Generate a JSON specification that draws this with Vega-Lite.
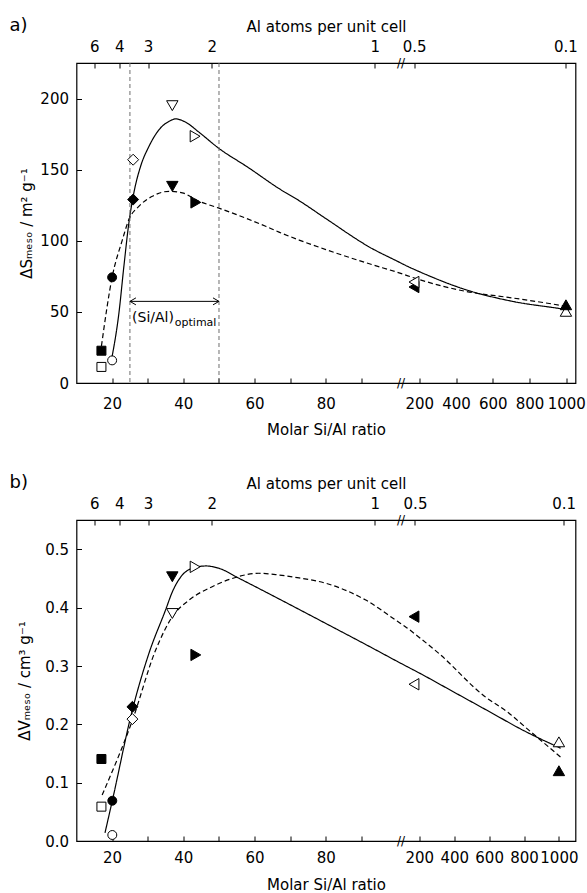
{
  "$schema": "https://vega.github.io/schema/vega-lite/v6.json",
  "padding": {"left": 8.5, "top": 15, "right": 0, "bottom": 0},
  "config": {
    "font": "DejaVu Sans",
    "view": {"stroke": "black", "strokeWidth": 1.2},
    "axis": {"domain": false, "grid": false, "ticks": true, "tickSize": -5, "tickColor": "black", "tickWidth": 1,
             "labelFont": "DejaVu Sans", "labelFontSize": 15, "labelColor": "black", "labelPadding": 13,
             "labelOverlap": false, "labelFlush": false,
             "titleFont": "DejaVu Sans", "titleFontSize": 15, "titleFontWeight": "normal", "titleColor": "black", "titlePadding": 6},
    "title": {"font": "DejaVu Sans", "fontSize": 18, "fontWeight": "normal", "color": "black", "anchor": "start", "frame": "group"}
  },
  "datasets": {
    "pa": [
      {"x": 17, "y": 22.7, "series": "II", "sample": "s1"},
      {"x": 17, "y": 11.3, "series": "I", "sample": "s1"},
      {"x": 20, "y": 74.3, "series": "II", "sample": "s2"},
      {"x": 20, "y": 15.9, "series": "I", "sample": "s2"},
      {"x": 25.9, "y": 129, "series": "II", "sample": "s3"},
      {"x": 25.9, "y": 157, "series": "I", "sample": "s3"},
      {"x": 36.9, "y": 195, "series": "I", "sample": "s4"},
      {"x": 36.9, "y": 138.3, "series": "II", "sample": "s4"},
      {"x": 43.3, "y": 173.5, "series": "I", "sample": "s5"},
      {"x": 43.5, "y": 127, "series": "II", "sample": "s5"},
      {"x": 176, "y": 67.5, "series": "II", "sample": "s6"},
      {"x": 176, "y": 71, "series": "I", "sample": "s6"},
      {"x": 998, "y": 50.4, "series": "I", "sample": "s7"},
      {"x": 998, "y": 55, "series": "II", "sample": "s7"}
    ],
    "pb": [
      {"x": 17, "y": 0.1406, "series": "II", "sample": "s1"},
      {"x": 17, "y": 0.0589, "series": "I", "sample": "s1"},
      {"x": 20.05, "y": 0.069, "series": "II", "sample": "s2"},
      {"x": 20.05, "y": 0.0103, "series": "I", "sample": "s2"},
      {"x": 25.7, "y": 0.23, "series": "II", "sample": "s3"},
      {"x": 25.7, "y": 0.209, "series": "I", "sample": "s3"},
      {"x": 36.9, "y": 0.453, "series": "II", "sample": "s4"},
      {"x": 36.9, "y": 0.39, "series": "I", "sample": "s4"},
      {"x": 43.3, "y": 0.47, "series": "I", "sample": "s5"},
      {"x": 43.5, "y": 0.319, "series": "II", "sample": "s5"},
      {"x": 176, "y": 0.3846, "series": "II", "sample": "s6"},
      {"x": 176, "y": 0.2687, "series": "I", "sample": "s6"},
      {"x": 1000, "y": 0.17, "series": "I", "sample": "s7"},
      {"x": 1000, "y": 0.1205, "series": "II", "sample": "s7"}
    ],
    "ca": [
      {"x": 20, "y": 18.7, "series": "I"}, {"x": 21.9, "y": 49, "series": "I"}, {"x": 23.3, "y": 82, "series": "I"},
      {"x": 24.7, "y": 112.5, "series": "I"}, {"x": 26.1, "y": 133.7, "series": "I"}, {"x": 28.0, "y": 152.4, "series": "I"},
      {"x": 30.35, "y": 166.4, "series": "I"}, {"x": 33.2, "y": 178.2, "series": "I"}, {"x": 36, "y": 184, "series": "I"},
      {"x": 37.85, "y": 185.7, "series": "I"}, {"x": 40.7, "y": 183.3, "series": "I"}, {"x": 44.4, "y": 176.3, "series": "I"},
      {"x": 49.8, "y": 165.3, "series": "I"}, {"x": 58.4, "y": 151.2, "series": "I"}, {"x": 66.85, "y": 136.7, "series": "I"},
      {"x": 72.5, "y": 128.2, "series": "I"}, {"x": 80, "y": 115.6, "series": "I"}, {"x": 93, "y": 94.5, "series": "I"},
      {"x": 100, "y": 85.7, "series": "I"}, {"x": 150, "y": 81.8, "series": "I"}, {"x": 200, "y": 78.3, "series": "I"},
      {"x": 453, "y": 65.6, "series": "I"}, {"x": 707, "y": 57.4, "series": "I"}, {"x": 998, "y": 51.6, "series": "I"},
      {"x": 1015, "y": 51.2, "series": "I"},
      {"x": 17, "y": 26, "series": "II"}, {"x": 20, "y": 74.3, "series": "II"}, {"x": 22.9, "y": 100.8, "series": "II"},
      {"x": 24.7, "y": 114.9, "series": "II"}, {"x": 27.5, "y": 124.2, "series": "II"}, {"x": 31.3, "y": 131.3, "series": "II"},
      {"x": 36, "y": 134.8, "series": "II"}, {"x": 39.7, "y": 133.7, "series": "II"}, {"x": 44.4, "y": 127.8, "series": "II"},
      {"x": 49.8, "y": 123.1, "series": "II"}, {"x": 63.1, "y": 110.2, "series": "II"}, {"x": 66.85, "y": 106.1, "series": "II"},
      {"x": 72.5, "y": 100.5, "series": "II"}, {"x": 80, "y": 93.8, "series": "II"}, {"x": 93, "y": 83.2, "series": "II"},
      {"x": 100, "y": 77.9, "series": "II"}, {"x": 200, "y": 72.7, "series": "II"}, {"x": 453, "y": 64.4, "series": "II"},
      {"x": 707, "y": 59.8, "series": "II"}, {"x": 998, "y": 53.9, "series": "II"}, {"x": 1015, "y": 53.5, "series": "II"}
    ],
    "cb": [
      {"x": 18, "y": 0.014, "series": "I"}, {"x": 20.05, "y": 0.069, "series": "I"}, {"x": 25.7, "y": 0.225, "series": "I"},
      {"x": 30.35, "y": 0.322, "series": "I"}, {"x": 35.0, "y": 0.396, "series": "I"}, {"x": 36.9, "y": 0.427, "series": "I"},
      {"x": 39.3, "y": 0.453, "series": "I"}, {"x": 42.5, "y": 0.4675, "series": "I"}, {"x": 46.3, "y": 0.4715, "series": "I"},
      {"x": 50, "y": 0.4675, "series": "I"}, {"x": 55.6, "y": 0.4504, "series": "I"}, {"x": 66.85, "y": 0.415, "series": "I"},
      {"x": 80.9, "y": 0.37, "series": "I"}, {"x": 93, "y": 0.331, "series": "I"}, {"x": 100, "y": 0.308, "series": "I"},
      {"x": 150, "y": 0.298, "series": "I"}, {"x": 200, "y": 0.288, "series": "I"}, {"x": 400, "y": 0.255, "series": "I"},
      {"x": 600, "y": 0.222, "series": "I"}, {"x": 800, "y": 0.189, "series": "I"}, {"x": 1010, "y": 0.159, "series": "I"},
      {"x": 17.2, "y": 0.079, "series": "II"}, {"x": 25.7, "y": 0.207, "series": "II"}, {"x": 32.2, "y": 0.327, "series": "II"},
      {"x": 36.9, "y": 0.3845, "series": "II"}, {"x": 41.6, "y": 0.413, "series": "II"}, {"x": 48.1, "y": 0.436, "series": "II"},
      {"x": 53.7, "y": 0.45, "series": "II"}, {"x": 61.2, "y": 0.459, "series": "II"}, {"x": 66.85, "y": 0.456, "series": "II"},
      {"x": 72.5, "y": 0.451, "series": "II"}, {"x": 80, "y": 0.4418, "series": "II"}, {"x": 91.2, "y": 0.413, "series": "II"},
      {"x": 100, "y": 0.377, "series": "II"}, {"x": 138.7, "y": 0.367, "series": "II"}, {"x": 200, "y": 0.349, "series": "II"},
      {"x": 312.6, "y": 0.3214, "series": "II"}, {"x": 571.4, "y": 0.2486, "series": "II"}, {"x": 712.6, "y": 0.2194, "series": "II"},
      {"x": 809.7, "y": 0.1946, "series": "II"}, {"x": 1019.4, "y": 0.1414, "series": "II"}
    ],
    "vlines": [{"x": 25}, {"x": 50}],
    "arrow": [{"x": 25, "x2": 50, "y": 57.4}],
    "heads": [{"x": 25, "y": 57.4, "dir": "left"}, {"x": 50, "y": 57.4, "dir": "right"}],
    "lab1": [{"x": 25.6, "y": 45.9, "text": "(Si/Al)"}],
    "lab2": [{"x": 37.6, "y": 42.3, "text": "optimal"}],
    "brka": [{"x": 117.6, "y": 0}, {"x": 117.6, "y": 225}],
    "brkb": [{"x": 117.6, "y": 0}, {"x": 117.6, "y": 0.5503}]
  },
  "spacing": 33,
  "vconcat": [
    {
      "title": {"text": "a)", "dx": -67, "dy": 19},
      "width": 499, "height": 320,
      "resolve": {"axis": {"x": "independent"}},
      "layer": [
        {
          "data": {"name": "ca"},
          "mark": {"type": "line", "color": "black", "strokeWidth": 1.2, "interpolate": "monotone"},
          "encoding": {
            "x": {"field": "x", "type": "quantitative", "axis": null,
                  "scale": {"domain": [10, 100, 200, 1050], "range": [0, 320.6, 342.8, 499], "nice": false, "zero": false}},
            "y": {"field": "y", "type": "quantitative", "scale": {"domain": [0, 225], "nice": false},
                  "axis": {"title": "ΔSₘₑₛₒ / m² g⁻¹", "titlePadding": 5.7, "values": [0, 25, 50, 75, 100, 125, 150, 175, 200],
                           "labelExpr": "datum.value % 50 == 0 ? datum.label : ''"}},
            "strokeDash": {"field": "series", "type": "nominal", "scale": {"domain": ["I", "II"], "range": [[1, 0], [5, 3]]}, "legend": null}
          }
        },
        {
          "data": {"name": "vlines"},
          "mark": {"type": "rule", "strokeDash": [4, 3], "color": "#6e6e6e", "strokeWidth": 1},
          "encoding": {
            "x": {"field": "x", "type": "quantitative", "axis": null,
                  "scale": {"domain": [10, 100, 200, 1050], "range": [0, 320.6, 342.8, 499], "nice": false, "zero": false}}
          }
        },
        {
          "data": {"name": "arrow"},
          "mark": {"type": "rule", "color": "black", "strokeWidth": 1},
          "encoding": {
            "x": {"field": "x", "type": "quantitative", "axis": null,
                  "scale": {"domain": [10, 100, 200, 1050], "range": [0, 320.6, 342.8, 499], "nice": false, "zero": false}},
            "x2": {"field": "x2"},
            "y": {"field": "y", "type": "quantitative", "scale": {"domain": [0, 225], "nice": false}}
          }
        },
        {
          "data": {"name": "heads"},
          "transform": [{"filter": "datum.dir == 'left'"}],
          "mark": {"type": "point", "filled": false, "stroke": "black", "strokeWidth": 1, "opacity": 1, "size": 100, "shape": "M1.2,-0.7L0,0L1.2,0.7"},
          "encoding": {
            "x": {"field": "x", "type": "quantitative", "axis": null,
                  "scale": {"domain": [10, 100, 200, 1050], "range": [0, 320.6, 342.8, 499], "nice": false, "zero": false}},
            "y": {"field": "y", "type": "quantitative", "scale": {"domain": [0, 225], "nice": false}}
          }
        },
        {
          "data": {"name": "heads"},
          "transform": [{"filter": "datum.dir == 'right'"}],
          "mark": {"type": "point", "filled": false, "stroke": "black", "strokeWidth": 1, "opacity": 1, "size": 100, "shape": "M-1.2,-0.7L0,0L-1.2,0.7"},
          "encoding": {
            "x": {"field": "x", "type": "quantitative", "axis": null,
                  "scale": {"domain": [10, 100, 200, 1050], "range": [0, 320.6, 342.8, 499], "nice": false, "zero": false}},
            "y": {"field": "y", "type": "quantitative", "scale": {"domain": [0, 225], "nice": false}}
          }
        },
        {
          "data": {"name": "lab1"},
          "mark": {"type": "text", "align": "left", "baseline": "middle", "fontSize": 14, "font": "DejaVu Sans", "color": "black"},
          "encoding": {
            "x": {"field": "x", "type": "quantitative", "axis": null,
                  "scale": {"domain": [10, 100, 200, 1050], "range": [0, 320.6, 342.8, 499], "nice": false, "zero": false}},
            "y": {"field": "y", "type": "quantitative", "scale": {"domain": [0, 225], "nice": false}},
            "text": {"field": "text"}
          }
        },
        {
          "data": {"name": "lab2"},
          "mark": {"type": "text", "align": "left", "baseline": "middle", "fontSize": 11, "font": "DejaVu Sans", "color": "black"},
          "encoding": {
            "x": {"field": "x", "type": "quantitative", "axis": null,
                  "scale": {"domain": [10, 100, 200, 1050], "range": [0, 320.6, 342.8, 499], "nice": false, "zero": false}},
            "y": {"field": "y", "type": "quantitative", "scale": {"domain": [0, 225], "nice": false}},
            "text": {"field": "text"}
          }
        },
        {
          "data": {"name": "brka"},
          "mark": {"type": "text", "align": "center", "baseline": "middle", "fontSize": 12, "font": "DejaVu Sans", "color": "black"},
          "encoding": {
            "x": {"field": "x", "type": "quantitative",
                  "scale": {"domain": [10, 100, 200, 1050], "range": [0, 320.6, 342.8, 499], "nice": false, "zero": false},
                  "axis": {"orient": "top", "title": "Al atoms per unit cell", "labelPadding": 13.5, "titlePadding": 5,
                           "values": [15, 22, 30.1, 48, 93.7, 177, 995],
                           "labelExpr": "datum.value < 18 ? '6' : datum.value < 26 ? '4' : datum.value < 40 ? '3' : datum.value < 70 ? '2' : datum.value < 150 ? '1' : datum.value < 500 ? '0.5' : '0.1'"}},
            "y": {"field": "y", "type": "quantitative", "scale": {"domain": [0, 225], "nice": false}},
            "text": {"value": "//"}
          }
        },
        {
          "data": {"name": "pa"},
          "mark": {"type": "point", "filled": true, "stroke": "black", "strokeWidth": 1, "opacity": 1},
          "encoding": {
            "x": {"field": "x", "type": "quantitative",
                  "scale": {"domain": [10, 100, 200, 1050], "range": [0, 320.6, 342.8, 499], "nice": false, "zero": false},
                  "axis": {"orient": "bottom", "title": "Molar Si/Al ratio", "format": "d", "labelPadding": 18.6, "titlePadding": 11.2,
                           "values": [20, 30, 40, 50, 60, 70, 80, 90, 200, 400, 600, 800, 1000],
                           "labelExpr": "indexof([30, 50, 70, 90], datum.value) >= 0 ? '' : datum.label"}},
            "y": {"field": "y", "type": "quantitative", "scale": {"domain": [0, 225], "nice": false}},
            "shape": {"field": "sample", "type": "nominal", "legend": null,
                      "scale": {"domain": ["s1", "s2", "s3", "s4", "s5", "s6", "s7"],
                                "range": ["square", "circle", "diamond", "triangle-down", "triangle-right", "triangle-left", "triangle-up"]}},
            "size": {"field": "sample", "type": "ordinal", "legend": null,
                     "scale": {"type": "ordinal", "domain": ["s1", "s2", "s3", "s4", "s5", "s6", "s7"], "range": [81, 80, 120, 130, 130, 130, 130]}},
            "fill": {"field": "series", "type": "nominal", "legend": null, "scale": {"domain": ["I", "II"], "range": ["white", "black"]}}
          }
        }
      ]
    },
    {
      "title": {"text": "b)", "dx": -67, "dy": 19},
      "width": 499, "height": 321,
      "resolve": {"axis": {"x": "independent"}},
      "layer": [
        {
          "data": {"name": "cb"},
          "mark": {"type": "line", "color": "black", "strokeWidth": 1.2, "interpolate": "monotone"},
          "encoding": {
            "x": {"field": "x", "type": "quantitative", "axis": null,
                  "scale": {"domain": [10, 100, 200, 1095], "range": [0, 320.6, 342.8, 499], "nice": false, "zero": false}},
            "y": {"field": "y", "type": "quantitative", "scale": {"domain": [0, 0.5503], "nice": false},
                  "axis": {"title": "ΔVₘₑₛₒ / cm³ g⁻¹", "format": ".1f", "titlePadding": 11.7,
                           "values": [0, 0.05, 0.1, 0.15, 0.2, 0.25, 0.3, 0.35, 0.4, 0.45, 0.5],
                           "labelExpr": "round(datum.value * 100) % 10 == 0 ? datum.label : ''"}},
            "strokeDash": {"field": "series", "type": "nominal", "scale": {"domain": ["I", "II"], "range": [[1, 0], [5, 3]]}, "legend": null}
          }
        },
        {
          "data": {"name": "brkb"},
          "mark": {"type": "text", "align": "center", "baseline": "middle", "fontSize": 12, "font": "DejaVu Sans", "color": "black"},
          "encoding": {
            "x": {"field": "x", "type": "quantitative",
                  "scale": {"domain": [10, 100, 200, 1095], "range": [0, 320.6, 342.8, 499], "nice": false, "zero": false},
                  "axis": {"orient": "top", "title": "Al atoms per unit cell", "labelPadding": 13.5, "titlePadding": 5,
                           "values": [15, 22, 30.1, 48, 93.7, 180.6, 1027],
                           "labelExpr": "datum.value < 18 ? '6' : datum.value < 26 ? '4' : datum.value < 40 ? '3' : datum.value < 70 ? '2' : datum.value < 150 ? '1' : datum.value < 500 ? '0.5' : '0.1'"}},
            "y": {"field": "y", "type": "quantitative", "scale": {"domain": [0, 0.5503], "nice": false}},
            "text": {"value": "//"}
          }
        },
        {
          "data": {"name": "pb"},
          "mark": {"type": "point", "filled": true, "stroke": "black", "strokeWidth": 1, "opacity": 1},
          "encoding": {
            "x": {"field": "x", "type": "quantitative",
                  "scale": {"domain": [10, 100, 200, 1095], "range": [0, 320.6, 342.8, 499], "nice": false, "zero": false},
                  "axis": {"orient": "bottom", "title": "Molar Si/Al ratio", "format": "d", "labelPadding": 14.6, "titlePadding": 12,
                           "values": [20, 30, 40, 50, 60, 70, 80, 90, 200, 400, 600, 800, 1000],
                           "labelExpr": "indexof([30, 50, 70, 90], datum.value) >= 0 ? '' : datum.label"}},
            "y": {"field": "y", "type": "quantitative", "scale": {"domain": [0, 0.5503], "nice": false}},
            "shape": {"field": "sample", "type": "nominal", "legend": null,
                      "scale": {"domain": ["s1", "s2", "s3", "s4", "s5", "s6", "s7"],
                                "range": ["square", "circle", "diamond", "triangle-down", "triangle-right", "triangle-left", "triangle-up"]}},
            "size": {"field": "sample", "type": "ordinal", "legend": null,
                     "scale": {"type": "ordinal", "domain": ["s1", "s2", "s3", "s4", "s5", "s6", "s7"], "range": [81, 80, 120, 130, 130, 130, 130]}},
            "fill": {"field": "series", "type": "nominal", "legend": null, "scale": {"domain": ["I", "II"], "range": ["white", "black"]}}
          }
        }
      ]
    }
  ]
}
